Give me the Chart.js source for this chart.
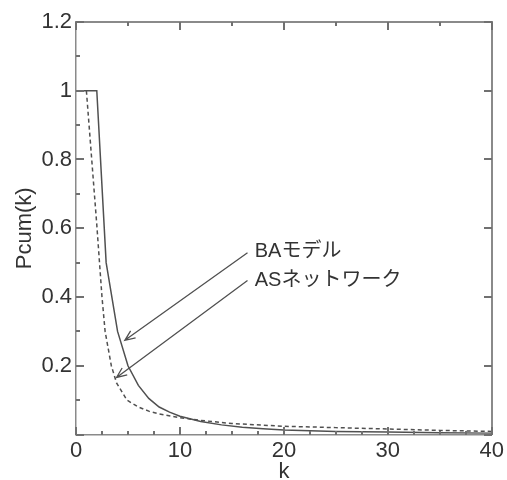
<!DOCTYPE html>
<html>
<head>
<meta charset="utf-8">
<script src="https://cdn.jsdelivr.net/npm/chart.js@4.4.1/dist/chart.umd.min.js"></script>
<style>
html, body { margin: 0; padding: 0; background: #fff; }
</style>
</head>
<body>
<canvas id="chart" width="507" height="480"></canvas>
<script>
// values
var kBA = [0, 1, 2, 2.9, 4, 5, 6, 7, 8, 9, 10, 12, 14, 16, 18, 20, 25, 30, 35, 40];
var pBA = [1, 1, 1, 0.5, 0.3, 0.2, 0.143, 0.105, 0.08, 0.065, 0.053, 0.038, 0.028, 0.021, 0.017, 0.013, 0.009, 0.007, 0.005, 0.004];

var kAS = [1, 2, 2.5, 2.8, 3.4, 3.9, 4.9, 6, 7, 8, 10, 12, 15, 20, 25, 30, 35, 40];
var pAS = [1, 0.61, 0.4, 0.3, 0.2, 0.15, 0.1, 0.08, 0.068, 0.06, 0.049, 0.041, 0.032, 0.024, 0.02, 0.016, 0.012, 0.009];

var xTicks = [0, 10, 20, 30, 40];
var yTicks = [0, 0.2, 0.4, 0.6, 0.8, 1, 1.2];

// annotation: label, text anchor, arrow start, arrow tip (data units)
var noteLabels = ["BAモデル", "ASネットワーク"];
var noteText = [[17.2, 0.532], [17.2, 0.447]];
var noteFrom = [[16.5, 0.529], [16.5, 0.448]];
var noteTo = [[4.7, 0.274], [3.9, 0.166]];

var font = "'Liberation Sans', 'Noto Sans CJK JP', sans-serif";
var textColor = "#333";
var frameColor = "#8a8a8a";
var tickColor = "#707070";
var lineColor = "#505050";

function pts(xs, ys) {
    return xs.map(function (x, i) { return { x: x, y: ys[i] }; });
}

// frame, inward ticks and arrows
var decor = {
    id: "decor",
    afterDraw: function (chart) {
        var ctx = chart.ctx;
        var a = chart.chartArea;
        var sx = chart.scales.x, sy = chart.scales.y;
        var L = Math.round(a.left), R = Math.round(a.right);
        var T = Math.round(a.top), B = Math.round(a.bottom);
        ctx.save();
        ctx.fillStyle = frameColor;
        ctx.fillRect(L, T - 1, R - L + 1, 2);
        ctx.fillRect(R - 1, T - 1, 2, B - T + 1);
        ctx.fillStyle = tickColor;
        // bottom: major every 10, minor every 2.5
        for (var n = 0; n <= 16; n++) {
            var px = Math.round(sx.getPixelForValue(n * 2.5));
            var len = n % 4 === 0 ? 8 : 4;
            ctx.fillRect(px - 1, B - len, 2, len);
        }
        // top: major every 10, minor every 5
        for (n = 0; n <= 8; n++) {
            px = Math.round(sx.getPixelForValue(n * 5));
            len = n % 2 === 0 ? 8 : 4;
            ctx.fillRect(px - 1, T, 2, len);
        }
        // left: major 0.2, minor 0.1
        for (n = 0; n <= 12; n++) {
            var py = Math.round(sy.getPixelForValue(n / 10));
            len = n % 2 === 0 ? 8 : 4;
            ctx.fillRect(L, py - 1, len, 2);
        }
        // right: major only
        for (n = 0; n <= 12; n += 2) {
            py = Math.round(sy.getPixelForValue(n / 10));
            ctx.fillRect(R - 8, py - 1, 8, 2);
        }

        // arrows
        ctx.strokeStyle = lineColor;
        ctx.lineWidth = 1.3;
        for (var i = 0; i < noteLabels.length; i++) {
            var x0 = sx.getPixelForValue(noteFrom[i][0]), y0 = sy.getPixelForValue(noteFrom[i][1]);
            var x1 = sx.getPixelForValue(noteTo[i][0]), y1 = sy.getPixelForValue(noteTo[i][1]);
            var ang = Math.atan2(y1 - y0, x1 - x0);
            ctx.beginPath();
            ctx.moveTo(x0, y0); ctx.lineTo(x1, y1);
            ctx.moveTo(x1 - 11 * Math.cos(ang - 0.4), y1 - 11 * Math.sin(ang - 0.4));
            ctx.lineTo(x1, y1);
            ctx.lineTo(x1 - 11 * Math.cos(ang + 0.4), y1 - 11 * Math.sin(ang + 0.4));
            ctx.stroke();

            ctx.fillStyle = textColor;
            ctx.font = "20px " + font;
            ctx.textAlign = "left";
            ctx.textBaseline = "middle";
            ctx.fillText(noteLabels[i], sx.getPixelForValue(noteText[i][0]), sy.getPixelForValue(noteText[i][1]));
        }
        ctx.restore();
    }
};

var ctx = document.getElementById("chart").getContext("2d");

new Chart(ctx, {
    type: "scatter",
    data: {
        datasets: [
            {
                label: "BA",
                data: pts(kBA, pBA),
                showLine: true,
                borderColor: lineColor,
                borderWidth: 1.5,
                pointRadius: 0,
                tension: 0
            },
            {
                label: "AS",
                data: pts(kAS, pAS),
                showLine: true,
                borderColor: lineColor,
                borderWidth: 1.5,
                borderDash: [4, 3],
                pointRadius: 0,
                tension: 0
            }
        ]
    },
    options: {
        responsive: false,
        animation: false,
        devicePixelRatio: 1,
        layout: { padding: { left: 0, top: 22, right: 15, bottom: 0 } },
        plugins: {
            legend: { display: false },
            tooltip: { enabled: false }
        },
        scales: {
            x: {
                type: "linear",
                min: 0,
                max: 40,
                afterFit: function (s) { s.height = 45.5; },
                afterBuildTicks: function (s) { s.ticks = xTicks.map(function (v) { return { value: v }; }); },
                grid: { display: false, drawTicks: false },
                border: { display: true, color: frameColor, width: 1.5 },
                ticks: {
                    padding: 3,
                    color: textColor,
                    font: { family: font, size: 22 },
                    maxRotation: 0
                },
                title: {
                    display: true,
                    text: "k",
                    color: textColor,
                    font: { family: font, size: 22, lineHeight: 1 },
                    padding: { top: 0, bottom: -3 }
                }
            },
            y: {
                type: "linear",
                min: 0,
                max: 1.2,
                afterFit: function (s) { s.width = 76; },
                afterBuildTicks: function (s) { s.ticks = yTicks.map(function (v) { return { value: v }; }); },
                grid: { display: false, drawTicks: false },
                border: { display: true, color: frameColor, width: 1.5 },
                ticks: {
                    padding: 4,
                    color: textColor,
                    font: { family: font, size: 22 },
                    callback: function (v) { return v === 0 ? "" : String(+v.toFixed(1)); }
                },
                title: {
                    display: true,
                    text: "Pcum(k)",
                    color: textColor,
                    font: { family: font, size: 22, lineHeight: 1 },
                    padding: { top: 14, bottom: 0 }
                }
            }
        }
    },
    plugins: [decor]
});
</script>
</body>
</html>
